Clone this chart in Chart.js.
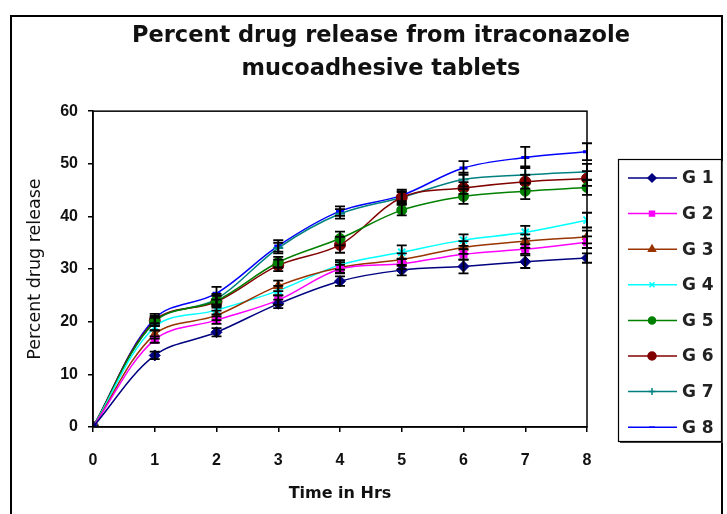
<!DOCTYPE html>
<html>
<head>
<meta charset="utf-8">
<script src="https://cdn.jsdelivr.net/npm/chart.js@4.4.1/dist/chart.umd.min.js"></script>
<style>
  html, body { margin: 0; padding: 0; background: #fff; }
  #wrap { width: 727px; height: 514px; position: relative; }
</style>
</head>
<body>
<div id="wrap"><canvas id="c"></canvas></div>
<script>
// ---- data ----
const timeHrs = [0, 1, 2, 3, 4, 5, 6, 7, 8];
const seriesNames = ["G 1", "G 2", "G 3", "G 4", "G 5", "G 6", "G 7", "G 8"];
const g1 = [0, 13.6, 18.0, 23.4, 27.7, 29.8, 30.5, 31.4, 32.1];
const g2 = [0, 16.6, 20.3, 24.1, 30.0, 31.0, 32.8, 33.8, 35.1];
const g3 = [0, 17.6, 21.2, 26.8, 30.3, 31.8, 34.1, 35.3, 36.1];
const g4 = [0, 19.0, 22.2, 25.9, 30.8, 33.2, 35.5, 37.0, 39.3];
const g5 = [0, 20.0, 24.0, 31.3, 35.8, 41.2, 43.8, 44.8, 45.5];
const g6 = [0, 20.2, 23.8, 30.7, 34.6, 43.6, 45.4, 46.6, 47.2];
const g7 = [0, 20.0, 24.3, 34.0, 40.5, 43.6, 47.0, 47.9, 48.5];
const g8 = [0, 20.6, 25.4, 34.4, 41.0, 44.0, 49.2, 51.2, 52.3];
// standard deviations (error bars)
const e1 = [0, 0.7, 0.8, 0.8, 0.9, 1.0, 1.3, 1.2, 0.9];
const e2 = [0, 0.6, 0.7, 0.9, 0.8, 1.0, 1.0, 0.9, 1.1];
const e3 = [0, 0.8, 0.9, 1.0, 1.0, 1.2, 1.2, 1.3, 1.2];
const e4 = [0, 0.7, 0.8, 0.9, 0.9, 1.3, 1.1, 1.2, 1.4];
const e5 = [0, 0.8, 1.0, 1.0, 1.3, 1.0, 1.4, 1.5, 1.4];
const e6 = [0, 0.9, 1.1, 1.1, 1.5, 1.2, 1.1, 1.3, 1.4];
const e7 = [0, 0.8, 1.0, 1.0, 0.9, 1.0, 1.3, 1.6, 1.5];
const e8 = [0, 0.9, 1.2, 1.1, 0.9, 1.1, 1.3, 2.0, 1.6];
const yTicks = [0, 10, 20, 30, 40, 50, 60];
const xTicks = [0, 1, 2, 3, 4, 5, 6, 7, 8];

const values = [g1, g2, g3, g4, g5, g6, g7, g8];
const errors = [e1, e2, e3, e4, e5, e6, e7, e8];

// ---- styles ----
const colors = ["#000080", "#FF00FF", "#993300", "#00FFFF", "#008000", "#800000", "#008080", "#0000FF"];
const markers = ["rectRot", "rect", "triangle", "crossRot", "circle", "circle", "cross", "line"];
const radii = [5.5, 5, 5.5, 5, 5, 5.5, 5, 4];
const markerBorder = [1, 1, 1, 2, 1, 1, 2, 3];

const datasets = values.map((v, i) => ({
  label: seriesNames[i],
  data: timeHrs.map((t, k) => ({ x: t, y: v[k] })),
  err: errors[i],
  borderColor: colors[i],
  backgroundColor: colors[i],
  borderWidth: 1.5,
  pointStyle: markers[i],
  pointRadius: radii[i],
  pointBorderWidth: markerBorder[i],
  pointBorderColor: colors[i],
  pointBackgroundColor: colors[i],
  tension: 0.35,
  fill: false
}));

const TICK_FONT = { family: "'Liberation Sans Narrow', 'Liberation Sans', Arial, sans-serif", size: 16, weight: "bold" };

const framePlugin = {
  id: "frame",
  beforeDraw(chart) {
    const ctx = chart.ctx;
    ctx.save();
    ctx.fillStyle = "#fff";
    ctx.fillRect(0, 0, chart.width, chart.height);
    ctx.strokeStyle = "#000";
    ctx.lineWidth = 2;
    ctx.strokeRect(11, 16, 711, 520);
    ctx.restore();
  },
  afterDraw(chart) {
    const ctx = chart.ctx;
    const a = chart.chartArea;
    ctx.save();
    ctx.strokeStyle = "#000";
    ctx.lineWidth = 1.5;
    ctx.strokeRect(a.left, a.top, a.right - a.left, a.bottom - a.top);
    ctx.restore();
  }
};

const errorBarPlugin = {
  id: "errbars",
  afterDatasetsDraw(chart) {
    const ctx = chart.ctx;
    const xs = chart.scales.x, ys = chart.scales.y;
    ctx.save();
    ctx.strokeStyle = "#000";
    ctx.lineWidth = 1.8;
    chart.data.datasets.forEach(ds => {
      ds.data.forEach((p, k) => {
        const e = ds.err[k];
        if (!e) return;
        const px = xs.getPixelForValue(p.x);
        const top = ys.getPixelForValue(p.y + e);
        const bot = ys.getPixelForValue(p.y - e);
        ctx.beginPath();
        ctx.moveTo(px, top); ctx.lineTo(px, bot);
        ctx.moveTo(px - 5, top); ctx.lineTo(px + 5, top);
        ctx.moveTo(px - 5, bot); ctx.lineTo(px + 5, bot);
        ctx.stroke();
      });
    });
    ctx.restore();
  }
};

const boxLegendPlugin = {
  id: "boxLegend",
  afterDraw(chart) {
    const ctx = chart.ctx;
    const L = 618, T = 159, W = 103, H = 282;
    ctx.save();
    ctx.fillStyle = "#444";
    ctx.fillRect(L + 2, T + 2, W, H);
    ctx.fillStyle = "#fff";
    ctx.fillRect(L, T, W, H);
    ctx.strokeStyle = "#000";
    ctx.lineWidth = 1.2;
    ctx.strokeRect(L + 0.5, T + 0.5, W, H);
    chart.data.datasets.forEach((ds, i) => {
      const y = 178 + i * 35.6;
      ctx.strokeStyle = ds.borderColor;
      ctx.lineWidth = 1.5;
      ctx.beginPath();
      ctx.moveTo(628, y); ctx.lineTo(677, y);
      ctx.stroke();
      ctx.fillStyle = ds.backgroundColor;
      Chart.helpers.drawPoint(ctx, {
        pointStyle: ds.pointStyle,
        radius: Math.max(3, ds.pointRadius - 1.5),
        rotation: 0,
        borderWidth: ds.pointBorderWidth
      }, 652, y);
      ctx.fillStyle = "#222";
      ctx.font = "bold 17px 'DejaVu Sans', sans-serif";
      ctx.textAlign = "left";
      ctx.textBaseline = "middle";
      ctx.fillText(ds.label, 682, y + 1);
    });
    ctx.restore();
  }
};

new Chart(document.getElementById("c"), {
  type: "line",
  data: { datasets },
  plugins: [framePlugin, errorBarPlugin, boxLegendPlugin],
  options: {
    responsive: true,
    maintainAspectRatio: false,
    animation: false,
    layout: { padding: { left: 35, right: 0, top: 0, bottom: 0 } },
    plugins: {
      legend: { display: false },
      tooltip: { enabled: false },
      title: {
        display: true,
        text: ["Percent drug release from itraconazole", "mucoadhesive tablets"],
        color: "#111",
        font: { family: "'DejaVu Sans', sans-serif", size: 22.5, weight: "bold", lineHeight: 1.47 },
        padding: { top: 20, bottom: 25 }
      }
    },
    scales: {
      x: {
        type: "linear",
        min: 0, max: 8,
        afterFit(scale) { scale.height = 87; },
        afterBuildTicks(scale) { scale.ticks = xTicks.map(v => ({ value: v })); },
        ticks: { color: "#111", font: TICK_FONT, padding: 19 },
        grid: { display: true, drawOnChartArea: false, color: "#000", tickLength: 5, lineWidth: 1.5 },
        border: { display: true, color: "#000", width: 1.5 },
        title: {
          display: true, text: "Time in Hrs", color: "#111",
          font: { family: "'DejaVu Sans', sans-serif", size: 16, weight: "bold" },
          padding: { top: 11, bottom: 11 }
        }
      },
      y: {
        type: "linear",
        min: 0, max: 60,
        afterFit(scale) { scale.width = 58; },
        afterBuildTicks(scale) { scale.ticks = yTicks.map(v => ({ value: v })); },
        ticks: { color: "#111", font: TICK_FONT, padding: 10 },
        grid: { display: true, drawOnChartArea: false, color: "#000", tickLength: 5, lineWidth: 1.5 },
        border: { display: true, color: "#000", width: 1.5 },
        title: {
          display: true, text: "Percent drug release", color: "#111",
          font: { family: "'DejaVu Sans', sans-serif", size: 17.5, weight: "normal" },
          padding: { top: -10, bottom: 0 }
        }
      },
      spacer: {
        type: "linear",
        position: "right",
        display: true,
        afterFit(scale) { scale.width = 140; },
        ticks: { display: false },
        grid: { display: false },
        border: { display: false }
      }
    }
  }
});
</script>
</body>
</html>
